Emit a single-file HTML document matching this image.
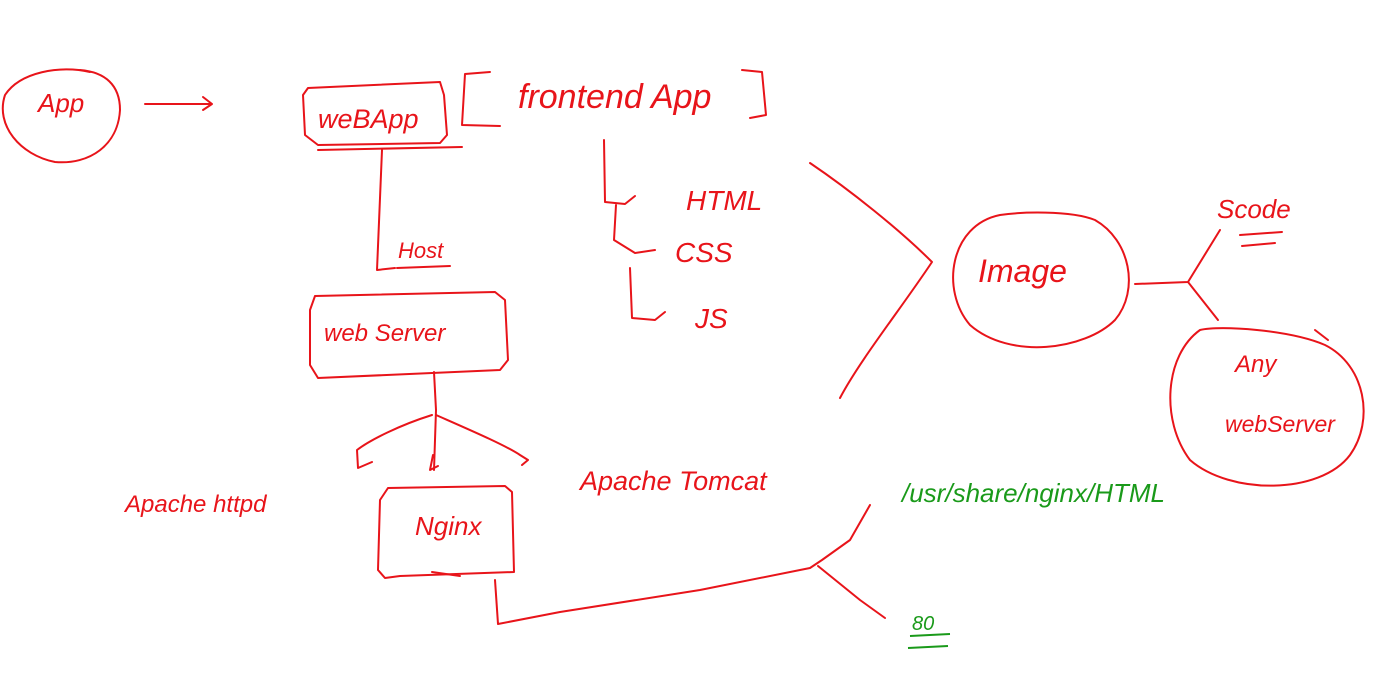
<!DOCTYPE html>
<html><head><meta charset="utf-8"><style>
html,body{margin:0;padding:0;background:#fff;}
svg{display:block}
text{font-family:"Liberation Sans",sans-serif;fill:#e8141a;}
</style></head><body>
<svg width="1391" height="687" viewBox="0 0 1391 687" xmlns="http://www.w3.org/2000/svg">
<g fill="none" stroke="#e8141a" stroke-width="2" stroke-linecap="round" stroke-linejoin="round">
<!-- App circle -->
<path d="M90 72 C60 65 20 72 5 95 C-5 125 20 155 55 162 C90 165 118 145 120 110 C120 85 105 72 80 70"/>
<path d="M145 104 L212 104 M203 97 L212 104 L203 110"/>
<!-- WebApp box -->
<path d="M308 88 L440 82 L444 95 L447 135 L440 143 L318 145 L305 135 L303 95 Z"/>
<path d="M318 150 L462 147"/>
<!-- bracket -->
<path d="M490 72 L465 74 L462 125 L500 126"/>
<path d="M742 70 L762 72 L766 115 L750 118"/>
<!-- vertical to webserver -->
<path d="M382 150 L377 270 L395 268"/>
<!-- webserver box -->
<path d="M315 296 L495 292 L505 300 L508 360 L500 370 L318 378 L310 365 L310 310 Z"/>
<!-- tree -->
<path d="M434 372 L436 410 L434 470"/>
<path d="M432 415 C400 425 370 440 357 450 L358 468 L372 462"/>
<path d="M436 415 C470 430 505 445 520 455 L528 460 L522 465"/>
<path d="M433 455 L430 470 L438 466"/>
<!-- nginx box -->
<path d="M388 488 L505 486 L512 492 L514 572 L400 576 L385 578 L378 570 L380 500 Z"/>
<path d="M432 572 L460 576"/>
<!-- line from nginx -->
<path d="M495 580 L498 624 L560 612 L700 590 L810 568 L822 560 L850 540 L870 505"/>
<path d="M818 566 L860 600 L885 618"/>
<!-- frontend tree -->
<path d="M604 140 L605 202 L625 204 L635 196"/>
<path d="M616 205 L614 240 L635 253 L655 250"/>
<path d="M630 268 L632 318 L655 320 L665 312"/>
<!-- big bracket -->
<path d="M810 163 C850 190 900 230 932 262 C900 310 860 360 840 398"/>
<!-- image circle -->
<path d="M1000 215 C950 225 940 290 970 325 C1010 360 1085 350 1115 320 C1140 290 1130 240 1095 220 C1070 210 1020 212 1000 215"/>
<path d="M1135 284 L1188 282 L1220 230"/>
<path d="M1188 282 L1218 320"/>
<!-- any webserver circle -->
<path d="M1200 330 C1165 355 1160 420 1190 460 C1230 495 1320 495 1350 455 C1375 420 1365 365 1325 345 C1290 330 1220 325 1200 330"/>
<path d="M1315 330 L1328 340"/>
<path d="M1240 235 L1282 232 M1242 246 L1275 243"/>
<path d="M397 268 L450 266"/>
</g>
<g font-style="italic">
<text x="38" y="112" font-size="26">App</text>
<text x="318" y="128" font-size="27">weBApp</text>
<text x="518" y="108" font-size="34">frontend  App</text>
<text x="686" y="210" font-size="28">HTML</text>
<text x="675" y="262" font-size="28">CSS</text>
<text x="695" y="328" font-size="28">JS</text>
<text x="398" y="258" font-size="22">Host</text>
<text x="324" y="341" font-size="24">web Server</text>
<text x="415" y="535" font-size="26">Nginx</text>
<text x="125" y="512" font-size="24">Apache httpd</text>
<text x="580" y="490" font-size="27">Apache Tomcat</text>
<text x="978" y="282" font-size="32">Image</text>
<text x="1217" y="218" font-size="26">Scode</text>
<text x="1235" y="372" font-size="24">Any</text>
<text x="1225" y="432" font-size="23">webServer</text>
<text x="902" y="502" font-size="26" style="fill:#1a9a1a">/usr/share/nginx/HTML</text>
<text x="912" y="630" font-size="20" style="fill:#1a9a1a">80</text>
</g>
<path d="M910 636 L950 634 M908 648 L948 646" stroke="#1a9a1a" stroke-width="2" fill="none"/>
</svg>
</body></html>
